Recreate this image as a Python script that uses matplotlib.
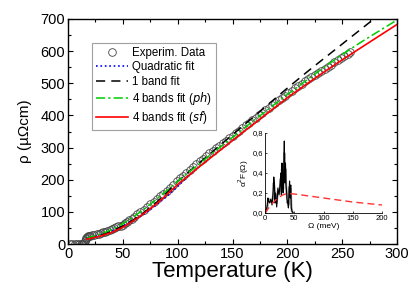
import matplotlib
matplotlib.use("Agg")
import matplotlib.pyplot as plt
from matplotlib.ticker import MultipleLocator, FuncFormatter

plt.rcParams['font.family'] = ['Liberation Sans', 'DejaVu Sans']

# ---- Experimental data ----
exp_T = [2, 4, 6, 8, 10, 12, 13, 14, 15, 15.5, 16, 16.5, 17, 18, 19, 20,
         22, 24, 26, 28, 30, 32, 34, 36, 38, 40, 42, 44, 46, 48, 50, 52, 54, 56, 58, 60,
         63, 66, 69, 72, 75, 78, 81, 84, 87, 90, 93, 96, 99, 102, 105, 108, 111, 114, 117,
         120, 123, 126, 129, 132, 135, 138, 141, 144, 147, 150, 153, 156, 159, 162, 165,
         168, 171, 174, 177, 180, 183, 186, 189, 192, 195, 198, 201, 204, 207, 210, 213,
         216, 219, 222, 225, 228, 231, 234, 237, 240, 243, 246, 249, 252, 255, 257]
exp_rho = [1, 1, 1, 1, 1, 1, 1, 1, 4, 9, 15, 20, 23, 24, 25, 25,
           27, 29, 30, 32, 34, 36, 38, 41, 43, 46, 49, 52, 55, 57, 60, 65, 69, 74, 79, 84,
           92, 99, 107, 115, 123, 131, 140, 148, 157, 166, 175, 185, 195, 204, 213, 222, 231, 240, 249,
           257, 266, 274, 282, 290, 298, 306, 313, 321, 329, 337, 345, 353, 361, 369, 377,
           385, 393, 401, 409, 417, 424, 432, 439, 447, 454, 462, 469, 477, 484, 492, 499,
           506, 513, 519, 526, 532, 539, 545, 552, 558, 565, 571, 578, 585, 591, 597]

# ---- Quadratic fit ----
quad_T = [17, 20, 25, 30, 35, 40, 45, 50, 55, 60, 65, 70, 75, 80, 85, 90, 95, 100, 105, 110]
quad_rho = [19, 20, 24, 29, 34, 41, 48, 56, 65, 74, 84, 95, 107, 120, 134, 148, 163, 179, 196, 213]

# ---- Band fits ----
fit_T = [17, 20, 30, 40, 50, 60, 70, 80, 90, 100, 110, 120, 130, 140, 150, 160, 170, 180,
         190, 200, 210, 220, 230, 240, 250, 260, 270, 280, 290, 300]
one_band = [17, 19, 28, 40, 56, 76, 100, 127, 160, 195, 224, 253, 282, 311, 340, 369, 398, 427,
            456, 485, 513, 541, 568, 595, 622, 649, 676, 703, 730, 757]
four_ph = [18, 21, 31, 45, 63, 85, 110, 137, 166, 195, 223, 250, 278, 305, 332, 359, 386, 412,
           439, 465, 490, 516, 541, 566, 590, 612, 634, 655, 676, 697]
four_sf = [15, 17, 25, 36, 52, 73, 97, 123, 153, 185, 213, 241, 268, 295, 322, 349, 375, 402,
           428, 455, 479, 503, 527, 550, 573, 595, 617, 639, 661, 683]

# ---- Inset: alpha^2 F ----
a2f_W = [0, 2, 4, 5, 6, 8, 10, 12, 14, 15, 16, 17, 18, 20, 22, 24, 26, 27, 28, 29, 30, 31, 32,
         33, 34, 35, 36, 37, 38, 39, 40, 41, 42, 43, 44, 45, 46, 48]
a2f_black = [0, 0.02, 0.08, 0.15, 0.12, 0.10, 0.14, 0.08, 0.22, 0.36, 0.30, 0.10, 0.20, 0.06,
             0.25, 0.18, 0.30, 0.40, 0.18, 0.50, 0.35, 0.20, 0.45, 0.72, 0.30, 0.50, 0.28, 0.20,
             0.10, 0.12, 0.05, 0.20, 0.32, 0.15, 0.28, 0.05, 0.02, 0]
a2f_gray = [0, 0.02, 0.06, 0.12, 0.14, 0.12, 0.12, 0.10, 0.18, 0.30, 0.26, 0.14, 0.18, 0.10,
            0.22, 0.20, 0.28, 0.34, 0.22, 0.44, 0.32, 0.24, 0.40, 0.60, 0.34, 0.44, 0.28, 0.20,
            0.14, 0.14, 0.08, 0.18, 0.26, 0.16, 0.24, 0.06, 0.02, 0]
sf_W = [0, 5, 10, 20, 30, 38, 50, 75, 100, 125, 150, 175, 200]
sf_a2f = [0, 0.04, 0.08, 0.14, 0.18, 0.195, 0.19, 0.17, 0.15, 0.13, 0.11, 0.095, 0.08]

fig = plt.figure(figsize=(4.15, 2.9), dpi=100)
ax = fig.add_axes([68/415, 1-244/290, 329/415, 225/290])

ax.plot(exp_T, exp_rho, 'o', mfc='none', mec='#444444', mew=0.6, ms=5.5, label='Experim. Data')
ax.plot(quad_T, quad_rho, ':', color='#0000ff', lw=1.2, label='Quadratic fit')
ax.plot(fit_T, one_band, color='black', lw=1.1, dashes=(6, 4), label='1 band fit')
ax.plot(fit_T, four_ph, color='#00cc00', lw=1.1, dashes=(6, 2, 1.5, 2), label='4 bands fit ($\\it{ph}$)')
ax.plot(fit_T, four_sf, color='#ff0000', lw=1.2, label='4 bands fit ($\\it{sf}$)')

ax.set_xlim(0, 300)
ax.set_ylim(0, 700)
ax.xaxis.set_major_locator(MultipleLocator(50))
ax.xaxis.set_minor_locator(MultipleLocator(25))
ax.yaxis.set_major_locator(MultipleLocator(100))
ax.yaxis.set_minor_locator(MultipleLocator(50))
ax.tick_params(which='both', direction='in', top=True, right=True, labelsize=10.5, pad=2)
ax.tick_params(which='major', length=3.5, width=0.8)
ax.tick_params(which='minor', length=2, width=0.8)
for s in ax.spines.values():
    s.set_linewidth(1.0)
ax.set_xlabel('Temperature (K)', fontsize=16, labelpad=0)
ax.set_ylabel('ρ (µΩcm)', fontsize=11, labelpad=6)

leg = ax.legend(loc='upper right', bbox_to_anchor=(0.45, 0.893), borderaxespad=0,
                fontsize=8.3, handlelength=2.7, handletextpad=0.4, labelspacing=0.2,
                fancybox=False, frameon=True, borderpad=0.35)
leg.get_frame().set_edgecolor('#888888')
leg.get_frame().set_linewidth(0.8)

# ---- Inset ----
ins = fig.add_axes([265/415, 1-213/290, 117/415, 80/290])
ins.plot(a2f_W, a2f_gray, color='#999999', lw=1.6)
ins.plot(a2f_W, a2f_black, color='black', lw=0.8)
ins.plot(sf_W, sf_a2f, color='#ff3333', lw=1.0, dashes=(5, 3))
ins.set_xlim(0, 200)
ins.set_ylim(0, 0.8)
ins.xaxis.set_major_locator(MultipleLocator(50))
ins.yaxis.set_major_locator(MultipleLocator(0.2))
ins.yaxis.set_major_formatter(FuncFormatter(lambda v, p: f'{v:.1f}'.replace('.', ',')))
ins.tick_params(direction='in', labelsize=5.5, length=1.5, width=0.5, pad=1.5)
ins.spines['top'].set_visible(False)
ins.spines['right'].set_visible(False)
ins.spines['left'].set_linewidth(0.6)
ins.spines['bottom'].set_linewidth(0.6)
ins.patch.set_alpha(0)
ins.set_xlabel('Ω (meV)', fontsize=6, labelpad=1)
ins.set_ylabel('α$^2$F(Ω)', fontsize=6, labelpad=1)

fig.savefig('out.png', dpi=100)
